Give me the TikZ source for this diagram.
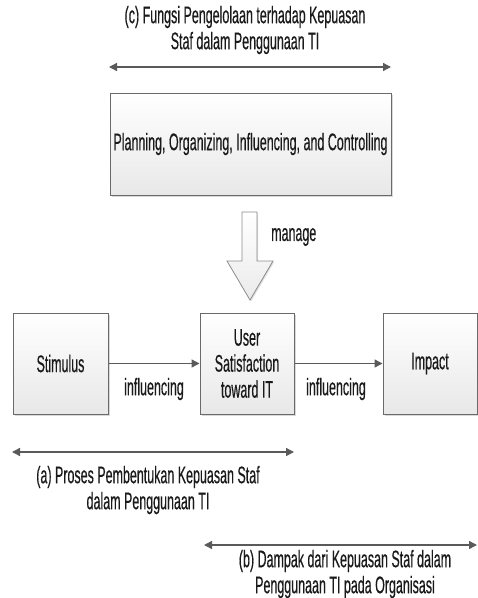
\documentclass[tikz,border=0pt]{standalone}
\usepackage{fontspec}
\setmainfont[FakeStretch=0.52,FakeBold=0.4]{Liberation Sans}
\usetikzlibrary{arrows.meta,shadows}
\definecolor{linegray}{HTML}{5A5A5A}
\definecolor{boxedge}{HTML}{6A6A6A}
\definecolor{txt}{HTML}{1A1A1A}
\tikzset{
  box/.style={draw=boxedge, line width=1pt, top color=white, bottom color=black!9,
    drop shadow={shadow xshift=1.5pt, shadow yshift=-1.5pt, fill=black!25, opacity=0.6},
    align=center, text=txt, inner sep=0pt},
  flow/.style={draw=linegray, line width=1.4pt, -{Triangle[length=8pt,width=8pt]}},
  span/.style={draw=linegray, line width=1.4pt, {Triangle[length=8pt,width=8pt]}-{Triangle[length=8pt,width=8pt]}},
  lbl/.style={text=txt, align=center, inner sep=0pt},
  blockarrow/.style={draw=black!45, line width=0.8pt, top color=white, bottom color=black!8,
    drop shadow={shadow xshift=1.2pt, shadow yshift=-1.2pt, fill=black!25, opacity=0.5}},
}
\begin{document}
\begin{tikzpicture}[x=1pt,y=-1pt, font=\fontsize{24}{26}\selectfont]
\useasboundingbox (0,0) rectangle (478,598);
% top label and span
\node[lbl] (ctext) at (245,30) {(c) Fungsi Pengelolaan terhadap Kepuasan\\Staf dalam Penggunaan TI};
\coordinate (c1) at (109,67);
\coordinate (c2) at (391,67);
\draw[span] (c1) -- (c2);
% planning box
\node[box, minimum width=281pt, minimum height=102pt] (plan) at (250.5,144) {Planning, Organizing, Influencing, and Controlling};
% block arrow
\path[blockarrow]
  (242,212) -- (257,212) -- (257,261) -- (273,261) -- (250,300) -- (227,261) -- (242,261) -- cycle;
\node[lbl, anchor=west] (mg) at (271,237) {manage};
% three boxes
\node[box, minimum width=95pt, minimum height=101pt] (stim) at (60.5,363.5) {Stimulus};
\node[box, minimum width=94pt, minimum height=101pt] (user) at (247,363.5) {User\\Satisfaction\\toward IT};
\node[box, minimum width=94pt, minimum height=101pt] (imp) at (430,363.5) {Impact};
\draw[flow] (stim) -- (user);
\draw[flow] (user) -- (imp);
\node[lbl] (i1) at (154,389) {influencing};
\node[lbl] (i2) at (336,389) {influencing};
% (a)
\coordinate (a1) at (12,452);
\coordinate (a2) at (294,452);
\draw[span] (a1) -- (a2);
\node[lbl] (atext) at (148,490) {(a) Proses Pembentukan Kepuasan Staf\\dalam Penggunaan TI};
% (b)
\coordinate (b1) at (204,545);
\coordinate (b2) at (477,545);
\draw[span] (b1) -- (b2);
\node[lbl] (btext) at (345,574) {(b) Dampak dari Kepuasan Staf dalam\\Penggunaan TI pada Organisasi};
\end{tikzpicture}
\end{document}
